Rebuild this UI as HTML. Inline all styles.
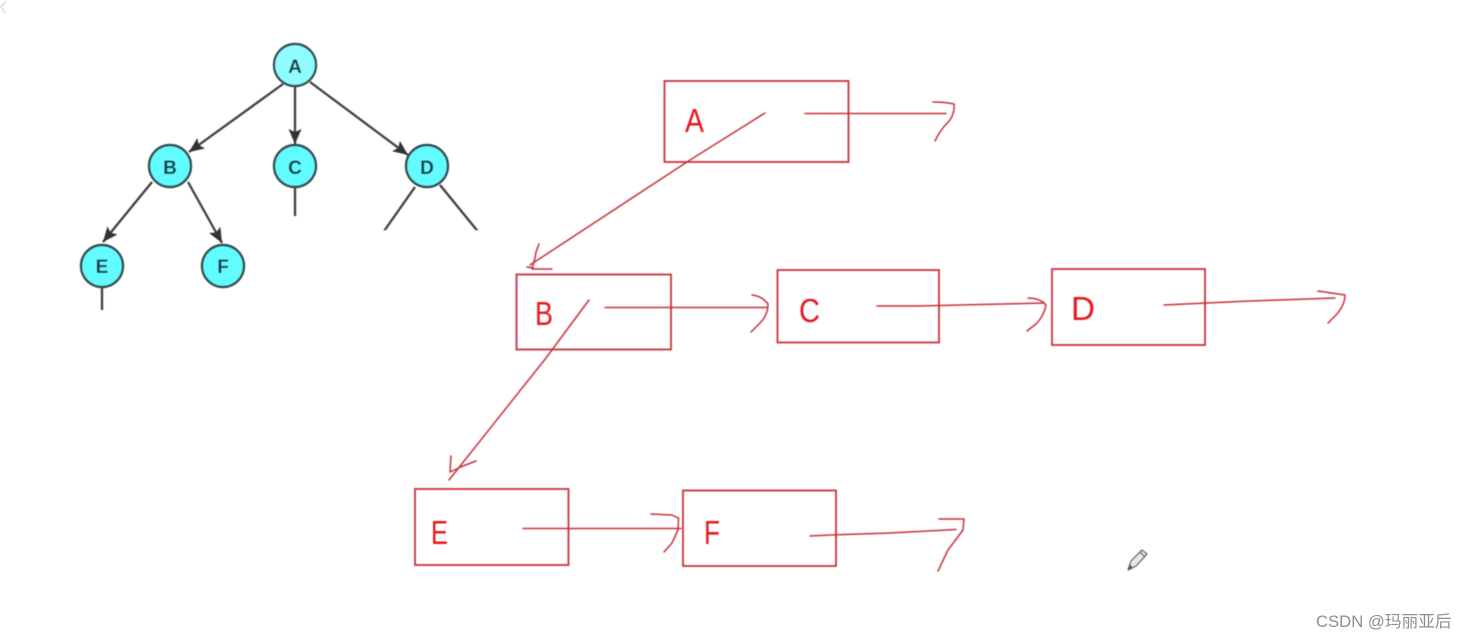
<!DOCTYPE html>
<html lang="zh">
<head>
<meta charset="utf-8">
<title>Tree diagram</title>
<style>
html,body{margin:0;padding:0;background:#fff;width:1468px;height:639px;overflow:hidden}
svg{display:block;position:absolute;left:0;top:0}
.n{font-family:"Liberation Sans",sans-serif;font-weight:700;font-size:19px;fill:#17343c;text-anchor:middle}
.r{font-family:"Liberation Sans",sans-serif;font-size:33px;fill:#e8141f}
.w{font-family:"Liberation Sans","Noto Sans CJK SC",sans-serif;font-size:16.7px;fill:#8e8e8e}
</style>
</head>
<body>
<svg width="1468" height="639" viewBox="0 0 1468 639" xmlns="http://www.w3.org/2000/svg">
<defs>
<marker id="ah" markerUnits="userSpaceOnUse" markerWidth="16" markerHeight="14" refX="15" refY="7" orient="auto">
<path d="M0,0.500 L15,7 L0,13.500 L3,7 Z" fill="#333"/>
</marker>
<filter id="b1" x="-5%" y="-5%" width="110%" height="110%"><feGaussianBlur stdDeviation="0.4"/></filter>
</defs>

<path d="M6,1 L1,7 L5,13" fill="none" stroke="#e4e4e4" stroke-width="2"/>

<g filter="url(#b1)">
<g fill="none" stroke="#3e3e3e" stroke-width="2.3">
<line x1="283" y1="84" x2="189" y2="152" marker-end="url(#ah)"/>
<line x1="295" y1="87" x2="295" y2="144" marker-end="url(#ah)"/>
<line x1="310" y1="82" x2="408" y2="155" marker-end="url(#ah)"/>
<line x1="152" y1="182" x2="103" y2="242" marker-end="url(#ah)"/>
<line x1="188" y1="182" x2="222" y2="243" marker-end="url(#ah)"/>
<line x1="295" y1="188" x2="295" y2="216"/>
<line x1="415" y1="187" x2="382" y2="234"/>
<line x1="440" y1="185" x2="480" y2="234"/>
<line x1="102" y1="287" x2="102" y2="310"/>
</g>
<rect x="370" y="230.500" width="120" height="8" fill="#fff"/>
<g fill="#62fbff" stroke="#35494d" stroke-width="2.4">
<circle cx="295" cy="65" r="21"/>
<circle cx="170" cy="166" r="21"/>
<circle cx="295" cy="166" r="21"/>
<circle cx="427" cy="166" r="21"/>
<circle cx="102" cy="266" r="21"/>
<circle cx="223" cy="266" r="21"/>
</g>
<circle cx="295" cy="65" r="19.800" fill="#8ffcff"/>
<text class="n" x="295" y="73">A</text>
<text class="n" x="170" y="174">B</text>
<text class="n" x="295" y="174">C</text>
<text class="n" x="427" y="174">D</text>
<text class="n" x="102" y="273">E</text>
<text class="n" x="223" y="273">F</text>
</g>

<g filter="url(#b1)">
<g fill="none" stroke="#c8303c" stroke-width="1.8">
<rect x="664.500" y="81" width="184" height="81"/>
<rect x="516.500" y="274.500" width="154.500" height="75"/>
<rect x="777.500" y="270" width="161.500" height="72.500"/>
<rect x="1052" y="269" width="153" height="76"/>
<rect x="415" y="489" width="153.500" height="76"/>
<rect x="683" y="490.500" width="153" height="75.500"/>
</g>
<g fill="none" stroke="#c8303c" stroke-width="1.5" stroke-linejoin="round" stroke-linecap="round">
<path d="M765,113 L690,160 L530,265"/>
<path d="M539,244 L536,252 L535,258 L532,269 L552,269 M527,267 L533,268"/>
<path d="M805,113.500 L946,113.500"/>
<path d="M933,102 Q945,102 954,104 Q955,112 950,120 Q940,130 935,141"/>
<path d="M589,300 L546,358 L449,480"/>
<path d="M451,456 L450,472 L463,466 L476,461"/>
<path d="M605,307.500 L767,307.500"/>
<path d="M752,295 Q762,296 768,304 Q768,315 760,323 L751,332"/>
<path d="M877,306 L918,306 L1044,303"/>
<path d="M1028,298 Q1040,298 1046,305 Q1044,316 1036,324 L1027,331"/>
<path d="M1164,305 L1250,301 L1335,298"/>
<path d="M1318,291 L1345,295 Q1345,305 1336,315 L1328,323"/>
<path d="M523,528.500 L681,528.500"/>
<path d="M651,514 L672,515 L678.500,518 L678,530 L672,543 L664,552"/>
<path d="M810,536 L830,535 L890,533 L956,529.500"/>
<path d="M939,519 L964,519 L963,530 L948,550 L938,571"/>
</g>
<text class="r" x="685" y="132" textLength="19" lengthAdjust="spacingAndGlyphs">A</text>
<text class="r" x="535" y="325" textLength="18" lengthAdjust="spacingAndGlyphs">B</text>
<text class="r" x="799" y="322" textLength="21" lengthAdjust="spacingAndGlyphs">C</text>
<text class="r" x="1071" y="320" textLength="24" lengthAdjust="spacingAndGlyphs">D</text>
<text class="r" x="431" y="544" textLength="17" lengthAdjust="spacingAndGlyphs">E</text>
<text class="r" x="704" y="544" textLength="16" lengthAdjust="spacingAndGlyphs">F</text>
</g>

<g filter="url(#b1)">
<path d="M1128,570 L1131,561 L1142,550 L1147,554 L1136,566 Z" fill="#e8e8e8" stroke="#666" stroke-width="1.3" stroke-linejoin="round"/>
<path d="M1128,570 L1130,564 L1133,568 Z" fill="#555"/>
<path d="M1140,552 L1145,557" stroke="#666" stroke-width="1.3"/>
</g>

<text class="w" x="1316" y="627">CSDN @玛丽亚后</text>
</svg>
</body>
</html>
